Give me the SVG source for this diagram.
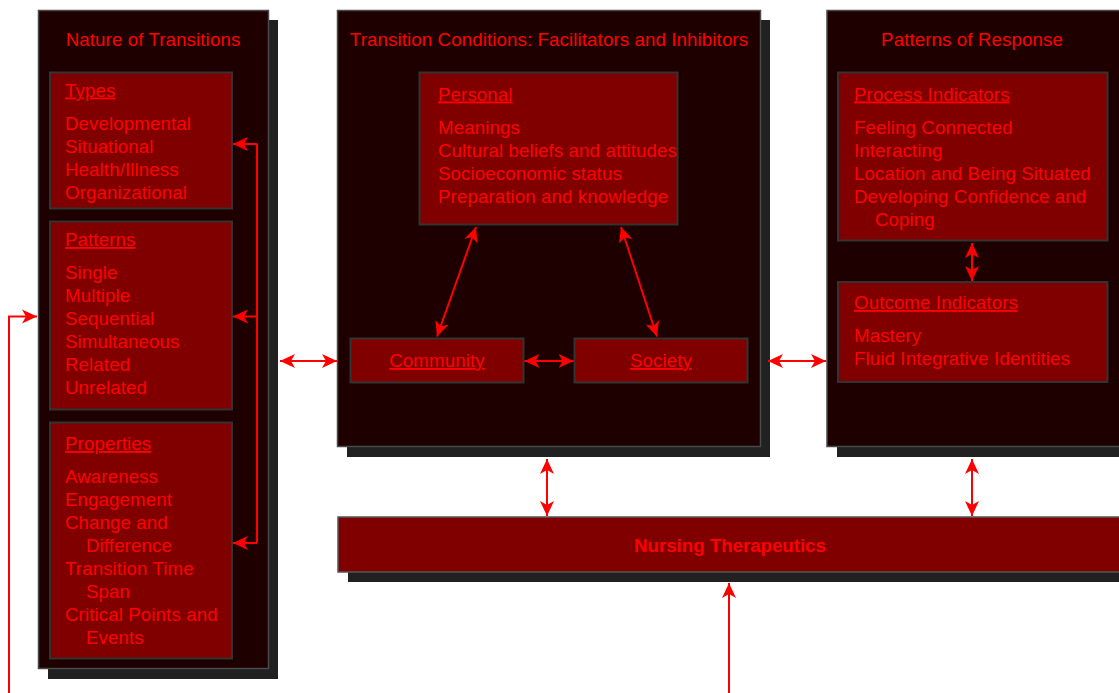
<svg xmlns="http://www.w3.org/2000/svg" width="1119" height="693" viewBox="0 0 1119 693">
<defs>
<style>
text{font-family:"Liberation Sans",Arial,Helvetica,sans-serif;font-size:18.67px;fill:#ff0000;letter-spacing:0.12px}
.u{text-decoration:underline}
.shadow{fill:#212121}
.panel{fill:#1e0000;stroke:#4a4a4a;stroke-width:1.5}
.box{fill:#800000;stroke:#333333;stroke-width:2}
.c{fill:none;stroke:#ff0000;stroke-width:2}
.mid{text-anchor:middle}
.b{font-weight:bold;letter-spacing:0}
</style>
<marker id="ah" viewBox="0 -8 16 16" refX="15" refY="0" markerWidth="16" markerHeight="16" markerUnits="userSpaceOnUse" orient="auto-start-reverse">
<path d="M0,-7 L15,0 L0,7 L4,0 Z" fill="#ff0000"/>
</marker>
</defs>
<rect width="1119" height="693" fill="#ffffff"/>

<g id="nature">
<rect class="shadow" x="48" y="20" width="230" height="659"/>
<rect class="panel" x="38.5" y="10.5" width="230" height="658"/>
<text class="mid" x="153" y="45.5">Nature of Transitions</text>
</g>
<g id="types">
<rect class="box" x="50" y="72.5" width="182" height="136"/>
<text class="u" x="65" y="96.5">Types</text>
<text x="65" y="129.5">Developmental</text>
<text x="65" y="152.5">Situational</text>
<text x="65" y="175.5">Health/Illness</text>
<text x="65" y="198.5">Organizational</text>
</g>
<g id="patterns">
<rect class="box" x="50" y="221.5" width="182" height="188"/>
<text class="u" x="65" y="246">Patterns</text>
<text x="65" y="279">Single</text>
<text x="65" y="302">Multiple</text>
<text x="65" y="325">Sequential</text>
<text x="65" y="348">Simultaneous</text>
<text x="65" y="371">Related</text>
<text x="65" y="394">Unrelated</text>
</g>
<g id="properties">
<rect class="box" x="50" y="422.5" width="182" height="236"/>
<text class="u" x="65" y="450">Properties</text>
<text x="65" y="483">Awareness</text>
<text x="65" y="506">Engagement</text>
<text x="65" y="529">Change and</text>
<text x="86" y="552">Difference</text>
<text x="65" y="575">Transition Time</text>
<text x="86" y="598">Span</text>
<text x="65" y="621">Critical Points and</text>
<text x="86" y="644">Events</text>
</g>

<g id="conditions">
<rect class="shadow" x="347" y="20" width="423" height="437"/>
<rect class="panel" x="337.5" y="10.5" width="423" height="436"/>
<text class="mid" x="549" y="45.5">Transition Conditions: Facilitators and Inhibitors</text>
</g>
<g id="personal">
<rect class="box" x="419.5" y="72.5" width="258" height="152"/>
<text class="u" x="438" y="100.5">Personal</text>
<text x="438" y="133.5">Meanings</text>
<text x="438" y="156.5">Cultural beliefs and attitudes</text>
<text x="438" y="179.5">Socioeconomic status</text>
<text x="438" y="202.5">Preparation and knowledge</text>
</g>
<g id="community">
<rect class="box" x="350.5" y="338.5" width="173" height="44"/>
<text class="u mid" x="437" y="367">Community</text>
</g>
<g id="society">
<rect class="box" x="574.5" y="338.5" width="173" height="44"/>
<text class="u mid" x="661" y="367">Society</text>
</g>

<g id="response">
<rect class="shadow" x="837" y="20" width="300" height="437"/>
<rect class="panel" x="827" y="10.5" width="300" height="436"/>
<text class="mid" x="972" y="45.5">Patterns of Response</text>
</g>
<g id="process">
<rect class="box" x="838" y="72.5" width="269.5" height="168"/>
<text class="u" x="854" y="100.5">Process Indicators</text>
<text x="854" y="134">Feeling Connected</text>
<text x="854" y="157">Interacting</text>
<text x="854" y="180">Location and Being Situated</text>
<text x="854" y="203">Developing Confidence and</text>
<text x="875" y="226">Coping</text>
</g>
<g id="outcome">
<rect class="box" x="838" y="282" width="269.5" height="100"/>
<text class="u" x="854" y="309">Outcome Indicators</text>
<text x="854" y="342">Mastery</text>
<text x="854" y="365">Fluid Integrative Identities</text>
</g>

<g id="nursing">
<rect class="shadow" x="348" y="527" width="790" height="55"/>
<rect x="338" y="517" width="790" height="55" fill="#800000" stroke="#555555" stroke-width="1.5"/>
<text class="mid b" x="730" y="551.5">Nursing Therapeutics</text>
</g>

<g id="connectors">
<path class="c" d="M257,144 L257,543"/>
<path class="c" d="M257,144 L233,144" marker-end="url(#ah)"/>
<path class="c" d="M257,316.5 L233,316.5" marker-end="url(#ah)"/>
<path class="c" d="M257,543 L233,543" marker-end="url(#ah)"/>
<path class="c" d="M9,693 L9,316.5 L37,316.5" marker-end="url(#ah)"/>
<path class="c" d="M280,361 L337,361" marker-start="url(#ah)" marker-end="url(#ah)"/>
<path class="c" d="M768,361 L826,361" marker-start="url(#ah)" marker-end="url(#ah)"/>
<path class="c" d="M524.5,361 L573.5,361" marker-start="url(#ah)" marker-end="url(#ah)"/>
<path class="c" d="M476,227 L437,336.5" marker-start="url(#ah)" marker-end="url(#ah)"/>
<path class="c" d="M621,227 L657,336.5" marker-start="url(#ah)" marker-end="url(#ah)"/>
<path class="c" d="M972,243 L972,281" marker-start="url(#ah)" marker-end="url(#ah)"/>
<path class="c" d="M547,459 L547,516" marker-start="url(#ah)" marker-end="url(#ah)"/>
<path class="c" d="M972,459 L972,516" marker-start="url(#ah)" marker-end="url(#ah)"/>
<path class="c" d="M729,693 L729,583" marker-end="url(#ah)"/>
</g>
</svg>
